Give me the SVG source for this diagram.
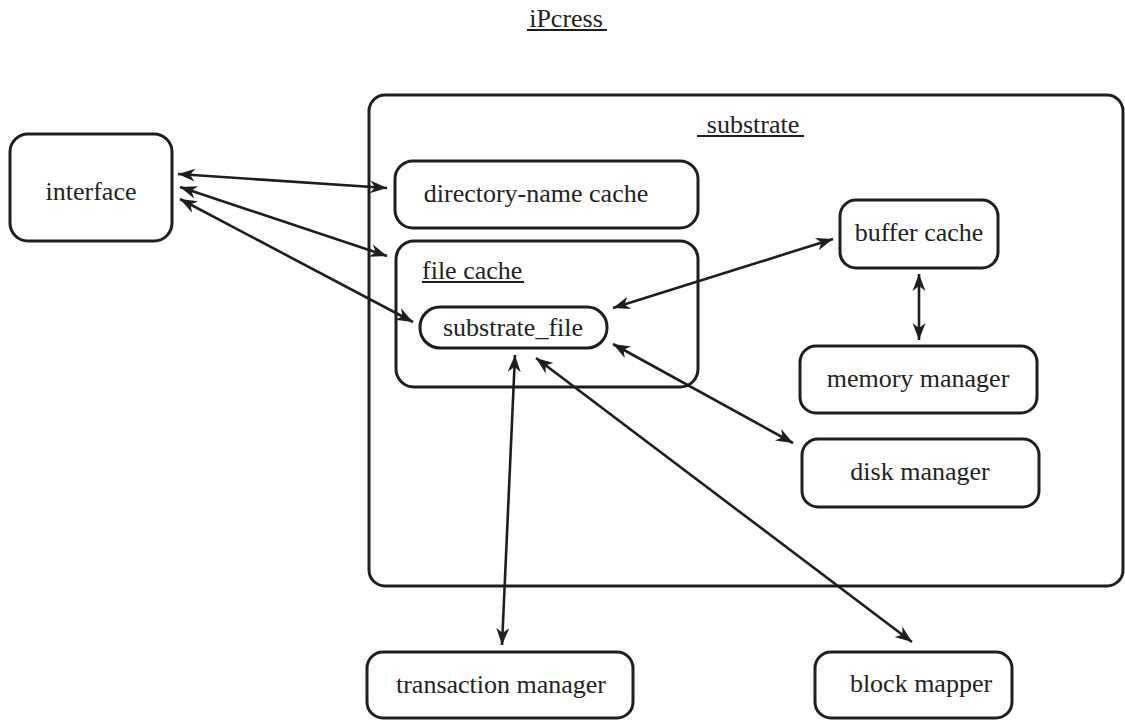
<svg xmlns="http://www.w3.org/2000/svg" width="1125" height="720" viewBox="0 0 1125 720">
<style>
.box{fill:none;stroke:#1e1e1e;stroke-width:3}
.lbl{font-family:"Liberation Serif","Times New Roman",serif;font-size:26px;fill:#222222;text-anchor:middle}
.ttl{font-family:"Liberation Serif","Times New Roman",serif;font-size:26px;fill:#222222}
.ul{stroke:#1e1e1e;stroke-width:2}
.conn{stroke:#1e1e1e;stroke-width:2.6;fill:none;marker-start:url(#ah);marker-end:url(#ah)}
</style>
<defs>
<marker id="ah" markerUnits="userSpaceOnUse" markerWidth="20" markerHeight="16" viewBox="0 -8 18 16" refX="17" refY="0" orient="auto-start-reverse">
<path d="M0,-6.5 L17,0 L0,6.5 L5,0 z" fill="#1e1e1e"/>
</marker>
</defs>
<rect width="1125" height="720" fill="#ffffff"/>
<g id="title">
<text class="lbl" x="566" y="27">iPcress</text>
<line class="ul" x1="527" y1="30" x2="607" y2="30"/>
</g>
<g id="substrate">
<rect class="box" x="369" y="95" width="754" height="491" rx="16"/>
<text class="lbl" x="753" y="133">substrate</text>
<line class="ul" x1="697" y1="136" x2="804" y2="136"/>
</g>
<g id="interface">
<rect class="box" x="10" y="134" width="162" height="107" rx="18"/>
<text class="lbl" x="91" y="200">interface</text>
</g>
<g id="directory-name-cache">
<rect class="box" x="395" y="161" width="303" height="67" rx="18"/>
<text class="lbl" x="536" y="202">directory-name cache</text>
</g>
<g id="file-cache">
<rect class="box" x="396" y="241" width="302" height="146" rx="18"/>
<text class="ttl" x="422" y="279">file cache</text>
<line class="ul" x1="422" y1="282" x2="524" y2="282"/>
</g>
<g id="substrate-file">
<rect class="box" x="420" y="307" width="187" height="41" rx="20"/>
<text class="lbl" x="513" y="336">substrate_file</text>
</g>
<g id="buffer-cache">
<rect class="box" x="840" y="200" width="158" height="68" rx="16"/>
<text class="lbl" x="919" y="241">buffer cache</text>
</g>
<g id="memory-manager">
<rect class="box" x="800" y="346" width="237" height="67" rx="16"/>
<text class="lbl" x="918" y="387">memory manager</text>
</g>
<g id="disk-manager">
<rect class="box" x="802" y="439" width="237" height="68" rx="16"/>
<text class="lbl" x="920" y="480">disk manager</text>
</g>
<g id="transaction-manager">
<rect class="box" x="367" y="652" width="266" height="66" rx="16"/>
<text class="lbl" x="501" y="693">transaction manager</text>
</g>
<g id="block-mapper">
<rect class="box" x="815" y="652" width="197" height="66" rx="16"/>
<text class="lbl" x="921" y="692">block mapper</text>
</g>
<g id="connectors">
<line class="conn" x1="178" y1="174" x2="387" y2="188"/>
<line class="conn" x1="180" y1="187" x2="387" y2="256"/>
<line class="conn" x1="180" y1="199" x2="413" y2="322"/>
<line class="conn" x1="613" y1="308" x2="833" y2="239"/>
<line class="conn" x1="919" y1="274" x2="919" y2="340"/>
<line class="conn" x1="613" y1="344" x2="793" y2="443"/>
<line class="conn" x1="515" y1="355" x2="502" y2="645"/>
<line class="conn" x1="536" y1="358" x2="912" y2="642"/>
</g>
</svg>
